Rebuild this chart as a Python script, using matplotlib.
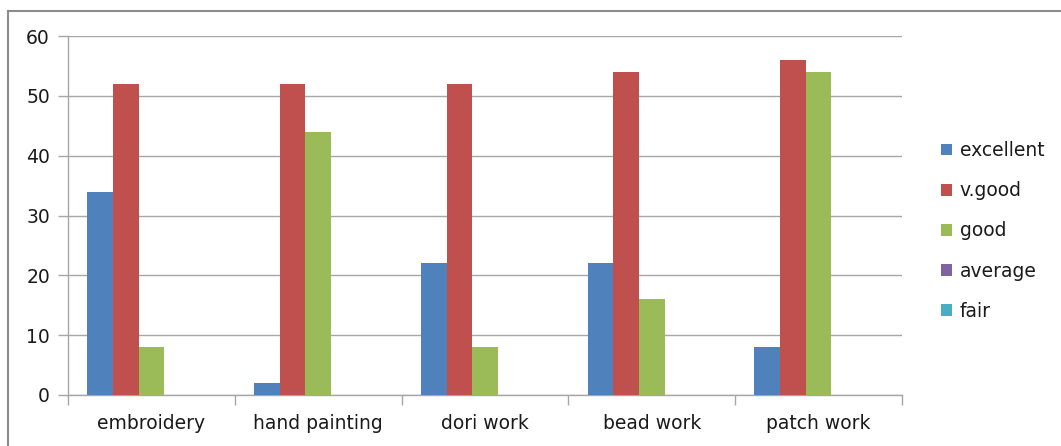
import numpy as np
import matplotlib.pyplot as plt
from matplotlib.lines import Line2D

plt.rcParams['font.family'] = ['DejaVu Sans']

categories = ['embroidery', 'hand painting', 'dori work', 'bead work', 'patch work']
series_names = ['excellent', 'v.good', 'good', 'average', 'fair']
excellent = [34, 2, 22, 22, 8]
v_good = [52, 52, 52, 54, 56]
good = [8, 44, 8, 16, 54]
average = [0, 0, 0, 0, 0]
fair = [0, 0, 0, 0, 0]
yticks = [0, 10, 20, 30, 40, 50, 60]

colors = ['#4F81BD', '#C0504D', '#9BBB59', '#8064A2', '#4BACC6']
grid_c = '#a6a6a6'
fs = 13.5

fig = plt.figure(figsize=(10.61, 4.46), dpi=100)
ax = fig.add_axes([68/1061, 1 - 395/446, (902 - 68)/1061, (395 - 36)/446])

x = np.arange(len(categories))
w = 1 / 6.5
data = [excellent, v_good, good, average, fair]
handles = []
for i, (name, vals) in enumerate(zip(series_names, data)):
    b = ax.bar(x - 2.5*w + w/2 + i*w, vals, width=w, color=colors[i],
               label=name, linewidth=0, zorder=3)
    handles.append(b)

ax.set_xlim(-0.5, len(categories) - 0.5)
ax.set_ylim(0, 60)
ax.set_yticks(yticks)
ax.yaxis.grid(True, color=grid_c, linewidth=1, zorder=0)
ax.set_xticks(np.arange(len(categories) + 1) - 0.5)
ax.set_xticklabels([])
ax.set_xticks(x, minor=True)
ax.set_xticklabels(categories, minor=True)
ax.tick_params(axis='x', which='major', length=7, color=grid_c, width=1)
ax.tick_params(axis='x', which='minor', length=0, pad=14, labelsize=fs, labelcolor='#1a1a1a')
ax.tick_params(axis='y', length=7, color=grid_c, width=1, pad=6, labelsize=fs, labelcolor='#1a1a1a')
for s in ['top', 'right']:
    ax.spines[s].set_visible(False)
for s in ['left', 'bottom']:
    ax.spines[s].set_color(grid_c)
    ax.spines[s].set_linewidth(1)

fig.legend(handles=handles, loc='center left', bbox_to_anchor=(924/1061, 1 - 231/446),
           frameon=False, fontsize=fs, handlelength=0.6, handleheight=0.6,
           handletextpad=0.4, labelspacing=1.13, labelcolor='#1a1a1a')

# outer chart border (left and top edges visible)
fig.add_artist(Line2D([8/1061, 8/1061], [0, 1 - 11/446], transform=fig.transFigure,
                      color='#8c8c8c', linewidth=1.5))
fig.add_artist(Line2D([8/1061, 1], [1 - 11/446, 1 - 11/446], transform=fig.transFigure,
                      color='#8c8c8c', linewidth=1.5))

fig.savefig('out.png', dpi=100)
